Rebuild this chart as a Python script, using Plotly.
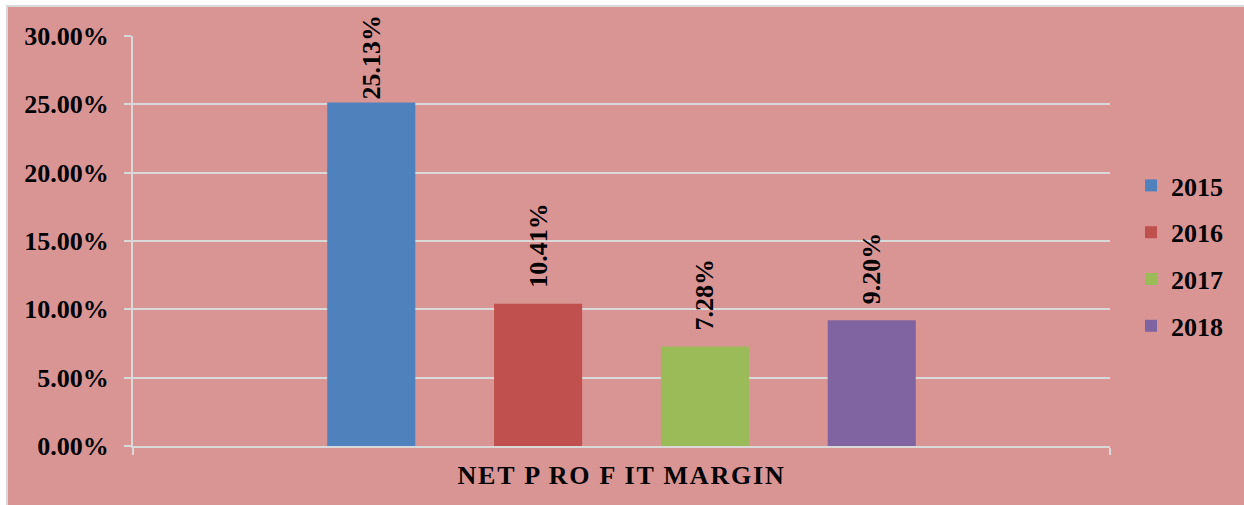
import plotly.graph_objects as go

# Net profit margin by year (%)
category = ["NET P RO F IT MARGIN"]
years = ["2015", "2016", "2017", "2018"]
margins = [25.13, 10.41, 7.28, 9.20]
colors = ["#4F81BD", "#C0504D", "#9BBB59", "#8064A2"]
y_ticks = [0, 5, 10, 15, 20, 25, 30]

FONT = "Liberation Serif, Times New Roman, serif"
PINK = "#D99594"
GRID = "#D9D9D9"

fig = go.Figure()
for yr, val, col in zip(years, margins, colors):
    # small lead-in gap between bar top and its rotated label (tall bar keeps it tight)
    pad = "\u2002" if val < 20 else ""
    fig.add_trace(go.Bar(
        x=category, y=[val], name=yr,
        marker=dict(color=col, line=dict(width=0)),
        text=[pad + f"{val:.2f}%"],
        textposition="outside", textangle=-90,
        constraintext="none", cliponaxis=False,
        textfont=dict(family=FONT, size=26, color="black", weight="bold"),
        legendgroup=yr,
    ))

fig.update_layout(
    width=1244, height=505,
    margin=dict(l=133, r=134, t=36, b=59),
    paper_bgcolor="white", plot_bgcolor=PINK,
    barmode="group", bargap=0.317, bargroupgap=0.472,
    font=dict(family=FONT, size=26, color="black", weight="bold"),
    showlegend=True,
    legend=dict(
        x=1.0215, xanchor="left", xref="paper",
        y=0.5 - 15 / 410, yanchor="middle",
        bgcolor="rgba(0,0,0,0)",
        traceorder="grouped", tracegroupgap=10,
        font=dict(family=FONT, size=26, color="black", weight="bold"),
        itemwidth=30,
    ),
    shapes=[dict(
        type="rect", xref="paper", yref="paper", layer="below",
        x0=(7 - 133) / 977, x1=(1260 - 133) / 977,
        y0=-(520 - 446) / 410, y1=(446 - 6) / 410,
        fillcolor=PINK, line=dict(color=GRID, width=2),
    )],
)

fig.update_xaxes(
    type="category", tickson="boundaries",
    tickvals=category,
    ticktext=['<span style="letter-spacing:1.8px">' + c + "</span>" for c in category],
    ticks="outside", ticklen=7, tickcolor=GRID, tickwidth=2,
    showline=True, linecolor=GRID, linewidth=2,
    showgrid=False,
    tickfont=dict(family=FONT, size=26, color="black", weight="bold"),
    ticklabelstandoff=5,
)
fig.update_yaxes(
    range=[0, 30], tickvals=y_ticks,
    ticktext=[f"{v:.2f}%" for v in y_ticks],
    ticks="outside", ticklen=7, tickcolor=GRID, tickwidth=2,
    showline=True, linecolor=GRID, linewidth=2,
    showgrid=True, gridcolor=GRID, gridwidth=2,
    zeroline=False,
    tickfont=dict(family=FONT, size=26, color="black", weight="bold"),
    ticklabelstandoff=10,
)

fig.write_html("out.html")
